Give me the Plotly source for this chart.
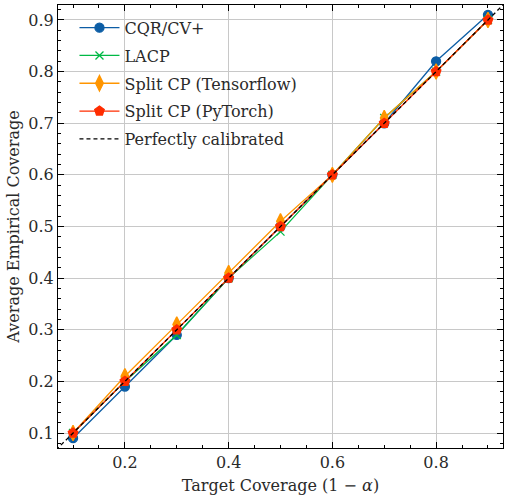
import plotly.graph_objects as go

target = [0.1, 0.2, 0.3, 0.4, 0.5, 0.6, 0.7, 0.8, 0.9]
cqr_cv = [0.09, 0.19, 0.29, 0.40, 0.50, 0.60, 0.70, 0.82, 0.91]
lacp = [0.10, 0.20, 0.29, 0.40, 0.49, 0.60, 0.71, 0.80, 0.90]
split_tf = [0.10, 0.21, 0.31, 0.41, 0.51, 0.60, 0.71, 0.80, 0.90]
split_pt = [0.10, 0.20, 0.30, 0.40, 0.50, 0.60, 0.70, 0.80, 0.90]
diag = [0.0, 1.0]

x_ticks = [0.2, 0.4, 0.6, 0.8]
y_ticks = [0.1, 0.2, 0.3, 0.4, 0.5, 0.6, 0.7, 0.8, 0.9]

FONT = "'DejaVu Serif', serif"
FS = 16
TXT = "#2a2a2a"

series = [
    ("CQR/CV+", cqr_cv, "#0C5DA5", "circle", 9),
    ("LACP", lacp, "#00B945", "x-thin-open", 8),
    ("Split CP (Tensorflow)", split_tf, "#FF9500", "diamond-tall", 11),
    ("Split CP (PyTorch)", split_pt, "#FF2C00", "pentagon", 10),
]

fig = go.Figure()
for name, vals, color, sym, size in series:
    fig.add_trace(go.Scatter(
        x=target, y=vals, name=name, legendgroup=name, mode="lines+markers",
        line=dict(color=color, width=1.3),
        marker=dict(symbol=sym, size=size, color=color,
                    line=dict(color=color, width=1.3)),
    ))

fig.add_trace(go.Scatter(
    x=diag, y=diag, name="Perfectly calibrated", legendgroup="ideal", mode="lines",
    line=dict(color="black", width=1.3, dash="4px,3px"),
))

axis_common = dict(
    showline=True, linecolor="black", linewidth=1.2, mirror="ticks",
    ticks="inside", ticklen=6, tickwidth=1, tickcolor="black",
    showgrid=True, gridcolor="#c8c8c8", gridwidth=1,
    zeroline=False,
    tickfont=dict(family=FONT, size=FS, color=TXT),
    title_font=dict(family=FONT, size=FS, color=TXT),
)

fig.update_xaxes(
    range=[0.071, 0.929], tickvals=x_ticks, ticktext=[f"{v:.1f}" for v in x_ticks],
    minor=dict(ticks="inside", ticklen=3, dtick=0.05, tick0=0, tickcolor="black", showgrid=False),
    title_text="Target Coverage (1 − <i>α</i>)", title_standoff=8,
    **axis_common,
)
fig.update_yaxes(
    range=[0.071, 0.929], tickvals=y_ticks, ticktext=[f"{v:.1f}" for v in y_ticks],
    minor=dict(ticks="inside", ticklen=3, dtick=0.02, tick0=0, tickcolor="black", showgrid=False),
    title_text="Average Empirical Coverage", title_standoff=4,
    **axis_common,
)

fig.update_layout(
    width=505, height=498,
    margin=dict(l=58, r=2, t=5, b=50),
    plot_bgcolor="white", paper_bgcolor="white",
    font=dict(family=FONT, size=FS, color=TXT),
    legend=dict(x=0.037, y=0.987, xanchor="left", yanchor="top",
                bgcolor="rgba(0,0,0,0)", borderwidth=0,
                font=dict(family=FONT, size=FS, color=TXT),
                tracegroupgap=4, itemwidth=40),
    showlegend=True,
)

fig.write_html("out.html")
